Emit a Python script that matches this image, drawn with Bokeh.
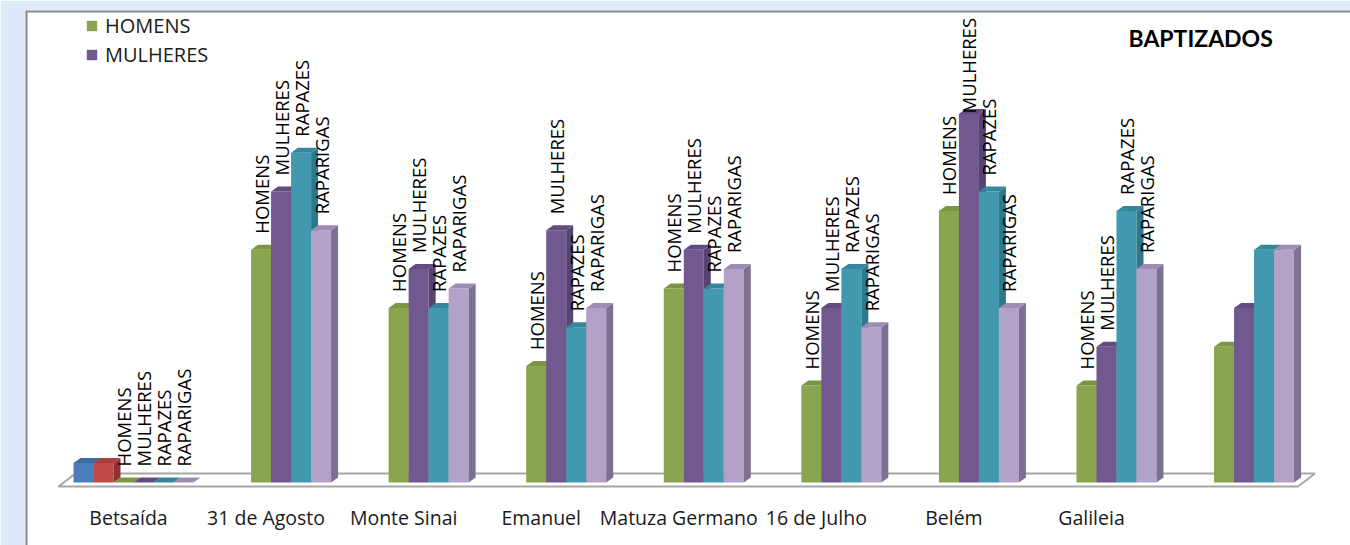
import numpy as np
from bokeh.plotting import figure
from bokeh.models import Range1d, Legend, LegendItem, Label, Span
from bokeh.core.properties import value
from bokeh.embed import file_html
from bokeh.resources import INLINE

# ---------------- data ----------------
categories = ["Betsaída", "31 de Agosto", "Monte Sinai", "Emanuel", "Matuza Germano",
              "16 de Julho", "Belém", "Galileia", ""]
series = ["HOMENS", "MULHERES", "RAPAZES", "RAPARIGAS"]
homens = [0, 12, 9, 6, 10, 5, 14, 5, 7]
mulheres = [0, 15, 11, 13, 12, 9, 19, 7, 9]
rapazes = [0, 17, 9, 8, 10, 11, 15, 14, 12]
raparigas = [0, 13, 10, 9, 11, 8, 9, 11, 12]
# two stray series that only have a value in the first category
extra_series = ["Série 1", "Série 2"]
extra_values = [1, 1]
title_text = "BAPTIZADOS"

# ---------------- styling ----------------
front_colors = ["#89A54E", "#71588F", "#4198AF", "#B3A2C7"]
side_colors = ["#6C8637", "#574372", "#2D788C", "#7D7090"]
top_colors = ["#7B9643", "#624B7E", "#34869B", "#9E8DB3"]
extra_front = ["#4A7EBB", "#BE4B48"]
extra_side = ["#345E8F", "#8E3331"]
extra_top = ["#3E6DA5", "#A63F3C"]
FONT = "Open Sans"

W, H = 1350, 545
BL, BT = 25, 10
frame_w, frame_h = W - BL, H - BT

px_x = 137.57          # pixels per category
px_y = 19.4            # pixels per unit
gx0 = 128.0            # first category centre, px from frame left
base_px = 472.0        # baseline, px from frame top

x_start = -gx0 / px_x
x_end = x_start + frame_w / px_x
y_end = base_px / px_y
y_start = y_end - frame_h / px_y

bw = 20.0 / px_x       # bar width
ddx = 7.0 / px_x       # 3D depth
ddy = 5.0 / px_y

p = figure(width=W, height=H, output_backend="svg", toolbar_location=None,
           x_axis_type=None, y_axis_type=None,
           x_range=Range1d(x_start, x_end), y_range=Range1d(y_start, y_end),
           min_border_left=BL, min_border_top=BT, min_border_right=0, min_border_bottom=0,
           border_fill_color="#dde9f7", background_fill_color="white",
           outline_line_color=None)
p.grid.visible = False

n = len(categories)
idx = np.arange(n, dtype=float)

# floor slab
fl_left = -95.0 / px_x
fl_right = (n - 1) + 44.0 / px_x
fl_front = -4.0 / px_y
fl_back = 9.0 / px_y
fl_dx = 17.0 / px_x
p.patch([fl_left, fl_right, fl_right + fl_dx, fl_left + fl_dx],
        [fl_front, fl_front, fl_back, fl_back],
        fill_color="white", line_color="#A6A6A6", line_width=2)


def draw_bars(xc, h, fc, sc, tc):
    xc = np.asarray(xc, dtype=float)
    h = np.asarray(h, dtype=float)
    left = xc - bw / 2
    right = xc + bw / 2
    r = p.vbar(x=xc, width=bw, top=h, bottom=0, fill_color=fc, line_color=None)
    p.patches([[a, a + ddx, a + ddx, a] for a in right],
              [[0, ddy, hh + ddy, hh] for hh in h],
              fill_color=sc, line_color=None)
    p.patches([[l, rr, rr + ddx, l + ddx] for l, rr in zip(left, right)],
              [[hh, hh, hh + ddy, hh + ddy] for hh in h],
              fill_color=tc, line_color=None)
    return r


# stray series in the first category
for k, v in enumerate(extra_values):
    xc = [0 + (k - len(extra_values) - 1.5) * bw]
    draw_bars(xc, [v], extra_front[k], extra_side[k], extra_top[k])

renderers = []
all_vals = [homens, mulheres, rapazes, raparigas]
for j, vals in enumerate(all_vals):
    xc = idx + (j - 1.5) * bw
    renderers.append(draw_bars(xc, vals, front_colors[j], side_colors[j], top_colors[j]))

# data labels (series names) for named categories; kept inside the chart
LBL_GAP = 16.0   # px above the bar
CHAR_PX = 12.0   # rough label length per character
for j, vals in enumerate(all_vals):
    xs, ys, ts = [], [], []
    for i, c in enumerate(categories):
        if c:
            xs.append(i + (j - 1.5) * bw)
            y_pref = vals[i] + LBL_GAP / px_y
            y_max = y_end - (7 + CHAR_PX * len(series[j])) / px_y
            ys.append(min(y_pref, y_max))
            ts.append(series[j])
    p.text(x=xs, y=ys, text=ts, angle=np.pi / 2,
           text_align="left", text_baseline="middle",
           text_font=value(FONT), text_font_size="18.5px", text_color="black")

# category labels
p.text(x=idx - 25.0 / px_x, y=[-35.0 / px_y] * n, text=categories,
       text_align="center", text_baseline="middle",
       text_font=value(FONT), text_font_size="19.5px", text_color="#1a1a1a")

# title
p.add_layout(Label(x=1103, y=frame_h - 27, x_units="screen", y_units="screen",
                   text=title_text, text_font="Lato", text_font_size="23px",
                   text_font_style="bold", text_align="left", text_baseline="middle",
                   text_color="black"))

# legend (only first two entries visible)
legend = Legend(items=[LegendItem(label=series[0], renderers=[renderers[0]]),
                       LegendItem(label=series[1], renderers=[renderers[1]])],
                location=(60, frame_h - 58), glyph_width=13, glyph_height=13,
                label_height=25, spacing=2, padding=4, margin=0, label_standoff=7,
                border_line_color=None, background_fill_alpha=0,
                label_text_font=FONT, label_text_font_size="20px",
                label_text_color="#1a1a1a")
p.add_layout(legend)

# chart border lines (top & left)
p.add_layout(Span(location=x_start, dimension="height", line_color="#8a8a8a", line_width=4))
p.add_layout(Span(location=y_end, dimension="width", line_color="#8a8a8a", line_width=4))

open("out.html", "w").write(file_html(p, INLINE))
